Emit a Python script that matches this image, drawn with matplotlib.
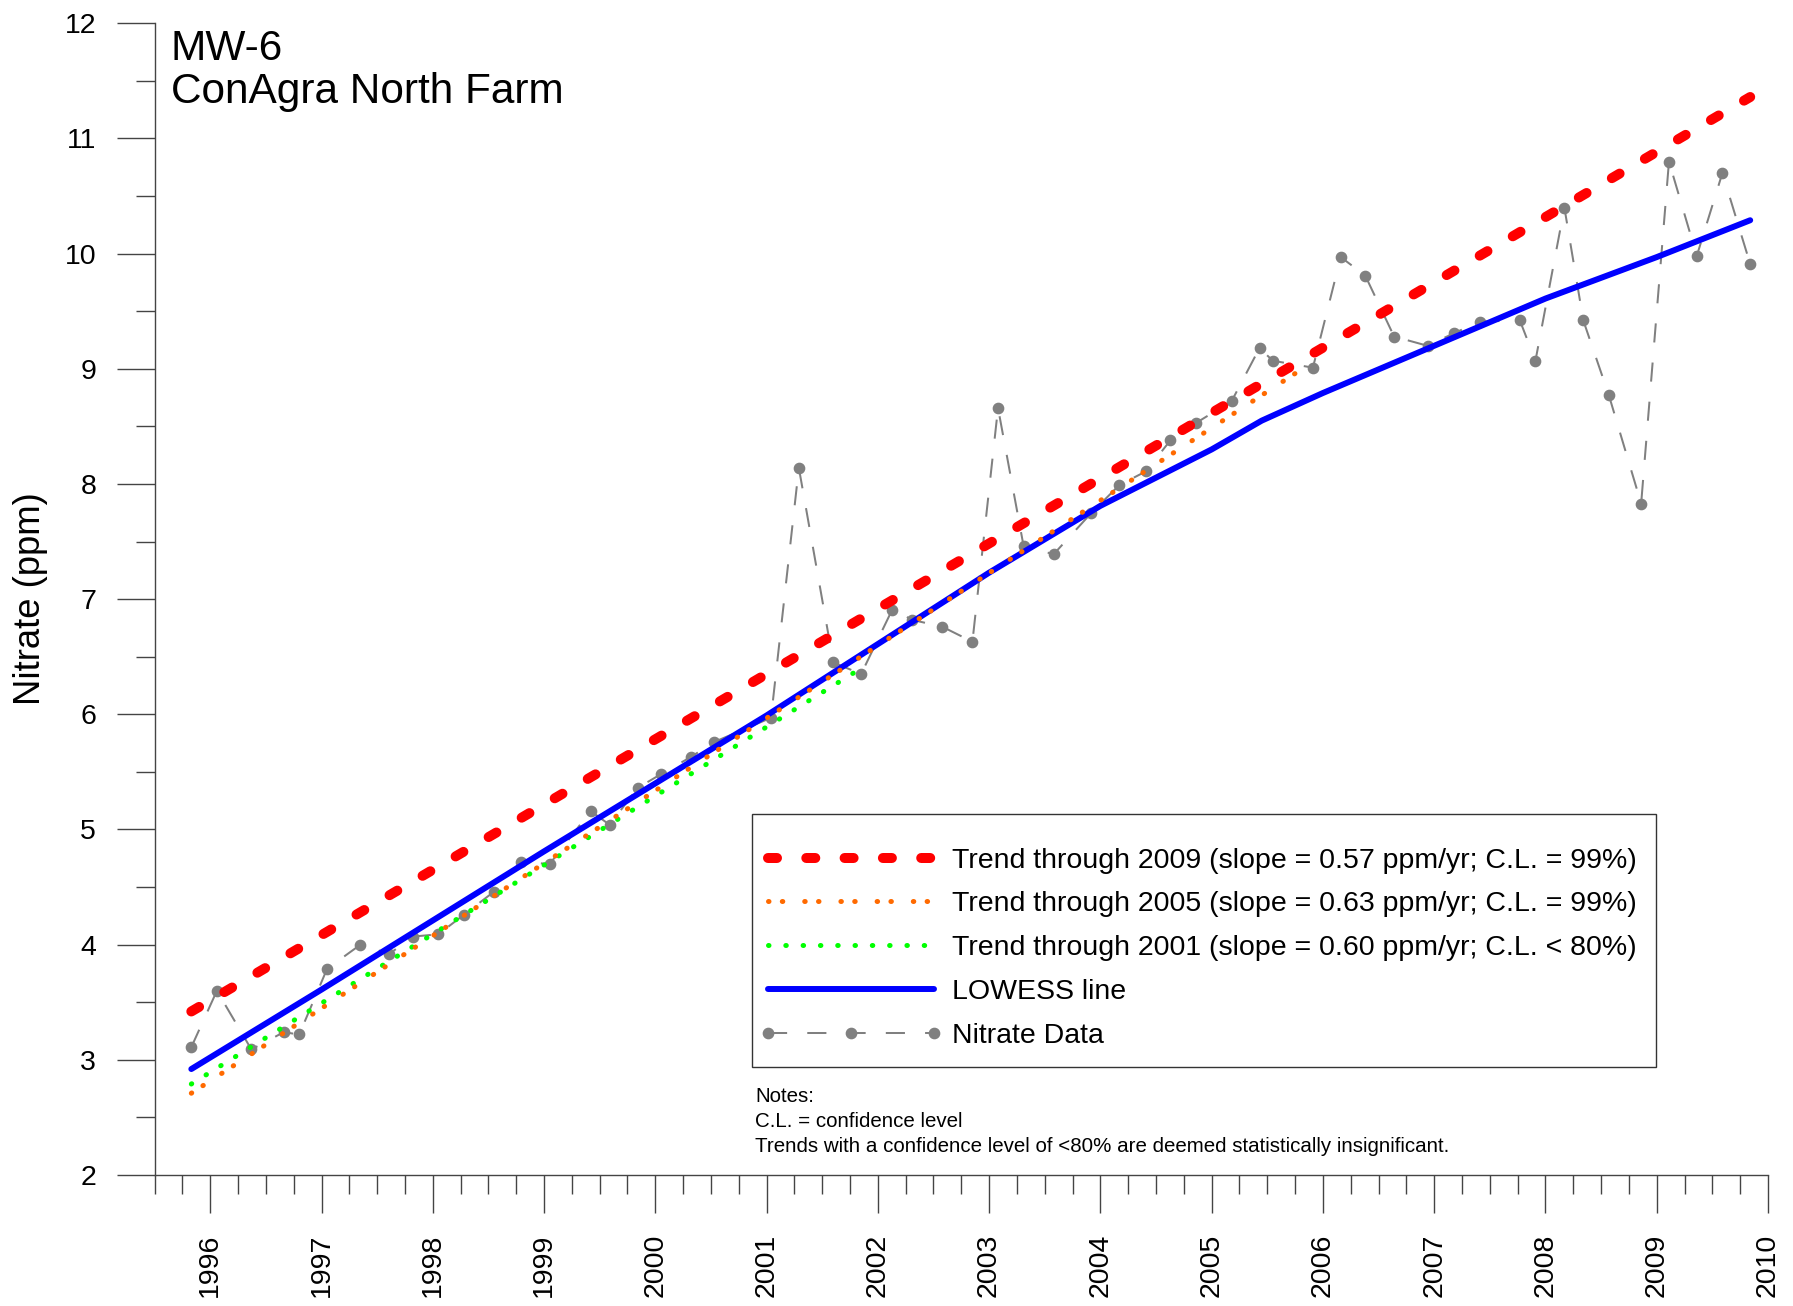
import matplotlib
matplotlib.use('Agg')
import matplotlib.pyplot as plt
from matplotlib.ticker import MultipleLocator
from matplotlib.patches import Rectangle

plt.rcParams['font.family'] = ['Liberation Sans', 'DejaVu Sans']

# MW-6 nitrate samples (decimal year, ppm)
sample_year = [1995.83, 1996.06, 1996.37, 1996.66, 1996.80, 1997.05, 1997.35, 1997.61,
               1997.82, 1998.05, 1998.28, 1998.55, 1998.79, 1999.05, 1999.42, 1999.59,
               1999.84, 2000.05, 2000.32, 2000.53, 2001.04, 2001.29, 2001.60, 2001.85,
               2002.13, 2002.31, 2002.58, 2002.85, 2003.08, 2003.31, 2003.58, 2003.92,
               2004.17, 2004.41, 2004.63, 2004.86, 2005.18, 2005.43, 2005.55, 2005.91,
               2006.16, 2006.38, 2006.64, 2006.94, 2007.18, 2007.41, 2007.77, 2007.91,
               2008.17, 2008.34, 2008.57, 2008.86, 2009.11, 2009.36, 2009.59, 2009.84]
nitrate_ppm = [3.11, 3.60, 3.09, 3.24, 3.22, 3.79, 4.00, 3.92,
               4.07, 4.09, 4.26, 4.46, 4.72, 4.70, 5.16, 5.04,
               5.36, 5.48, 5.63, 5.76, 5.97, 8.14, 6.45, 6.35,
               6.91, 6.82, 6.76, 6.63, 8.66, 7.46, 7.39, 7.75,
               7.99, 8.11, 8.38, 8.53, 8.72, 9.18, 9.07, 9.01,
               9.97, 9.81, 9.28, 9.20, 9.31, 9.41, 9.42, 9.07,
               10.40, 9.42, 8.77, 7.83, 10.80, 9.98, 10.70, 9.91]

# LOWESS curve as traced
lowess_year = [1995.83, 1997.0, 1998.0, 1999.0, 2000.0, 2001.0, 2002.0, 2003.0,
               2004.0, 2005.0, 2005.45, 2006.0, 2007.0, 2008.0, 2009.0, 2009.84]
lowess_ppm = [2.92, 3.61, 4.21, 4.81, 5.40, 5.99, 6.61, 7.23,
              7.81, 8.30, 8.55, 8.79, 9.20, 9.61, 9.97, 10.29]

# trend lines (start / end)
trend_2009_year = [1995.83, 2009.84]
trend_2009_ppm = [3.42, 11.36]
trend_2005_year = [1995.83, 2005.91]
trend_2005_ppm = [2.71, 9.06]
trend_2001_year = [1995.83, 2001.85]
trend_2001_ppm = [2.79, 6.40]

legend_labels = ['Trend through 2009 (slope = 0.57 ppm/yr; C.L. = 99%)',
                 'Trend through 2005 (slope = 0.63 ppm/yr; C.L. = 99%)',
                 'Trend through 2001 (slope = 0.60 ppm/yr; C.L. < 80%)',
                 'LOWESS line',
                 'Nitrate Data']
notes = ['Notes:',
         'C.L. = confidence level',
         'Trends with a confidence level of <80% are deemed statistically insignificant.']

W, H = 1793, 1306
fig = plt.figure(figsize=(W / 100, H / 100), dpi=100)
ax = fig.add_axes([154.6 / W, 1 - 1175 / H, 1613.4 / W, 1151.7 / H])

# data, then LOWESS, then trends on top
data_line, = ax.plot(sample_year, nitrate_ppm, color='#808080', lw=1.45,
                     dashes=(9.5, 10), marker='o', ms=7.4, mfc='#808080',
                     mec='#808080', zorder=2)
lowess_line, = ax.plot(lowess_year, lowess_ppm, color='#0000ff', lw=4.3,
                       solid_capstyle='round', zorder=3)
t01, = ax.plot(trend_2001_year, trend_2001_ppm, color='#00ff00', lw=3.6,
               dashes=(0.1, 3.36), dash_capstyle='round', zorder=4)
t05, = ax.plot(trend_2005_year, trend_2005_ppm, color='#ff6a00', lw=3.6,
               dashes=(0.1, 2.66, 0.1, 4.38), dash_capstyle='round', zorder=5)
t09, = ax.plot(trend_2009_year, trend_2009_ppm, color='#ff0000', lw=7.2,
               dashes=(0.9, 2.93), dash_capstyle='round', zorder=6)

ax.set_xlim(1995.5, 2010)
ax.set_ylim(2, 12)
for s in ['top', 'right']:
    ax.spines[s].set_visible(False)
for s in ['left', 'bottom']:
    ax.spines[s].set_color('#444444')
    ax.spines[s].set_linewidth(1.0)

ax.xaxis.set_major_locator(MultipleLocator(1))
ax.xaxis.set_minor_locator(MultipleLocator(0.25))
ax.yaxis.set_major_locator(MultipleLocator(1))
ax.yaxis.set_minor_locator(MultipleLocator(0.5))
ax.tick_params(which='major', length=27.7, width=1.0, color='#444444',
               labelsize=20.5, pad=14.4, direction='out')
ax.tick_params(which='minor', length=13.9, width=1.0, color='#444444', direction='out')
ax.set_xticks(range(1996, 2011))
ax.set_xticklabels([str(y) for y in range(1996, 2011)], rotation=90)
ax.set_yticks(range(2, 13))
ax.set_yticklabels([str(v) for v in range(2, 13)])

fig.text(31 / W, 1 - 599 / H, 'Nitrate (ppm)', rotation=90, fontsize=26.3,
         ha='center', va='center')
fig.text(171 / W, 1 - 60 / H, 'MW-6', fontsize=30.5, va='baseline')
fig.text(171 / W, 1 - 103 / H, 'ConAgra North Farm', fontsize=30.5, va='baseline')

leg = ax.legend([t09, t05, t01, lowess_line, data_line], legend_labels,
                loc='upper left', bbox_to_anchor=(759 / W, 1 - 847.5 / H),
                bbox_transform=fig.transFigure, frameon=False, fontsize=20.5,
                handlelength=6.43, handletextpad=0.35, labelspacing=0.63,
                borderpad=0, borderaxespad=0, numpoints=3)
fig.patches.append(Rectangle((752 / W, 1 - 1067 / H), 904 / W, 253 / H,
                             transform=fig.transFigure, fill=False,
                             edgecolor='#333333', lw=1.0))

for i, line in enumerate(notes):
    fig.text(755 / W, 1 - (1101.7 + 25 * i) / H, line, fontsize=14.8, va='baseline')

fig.savefig('out.png', dpi=100)
